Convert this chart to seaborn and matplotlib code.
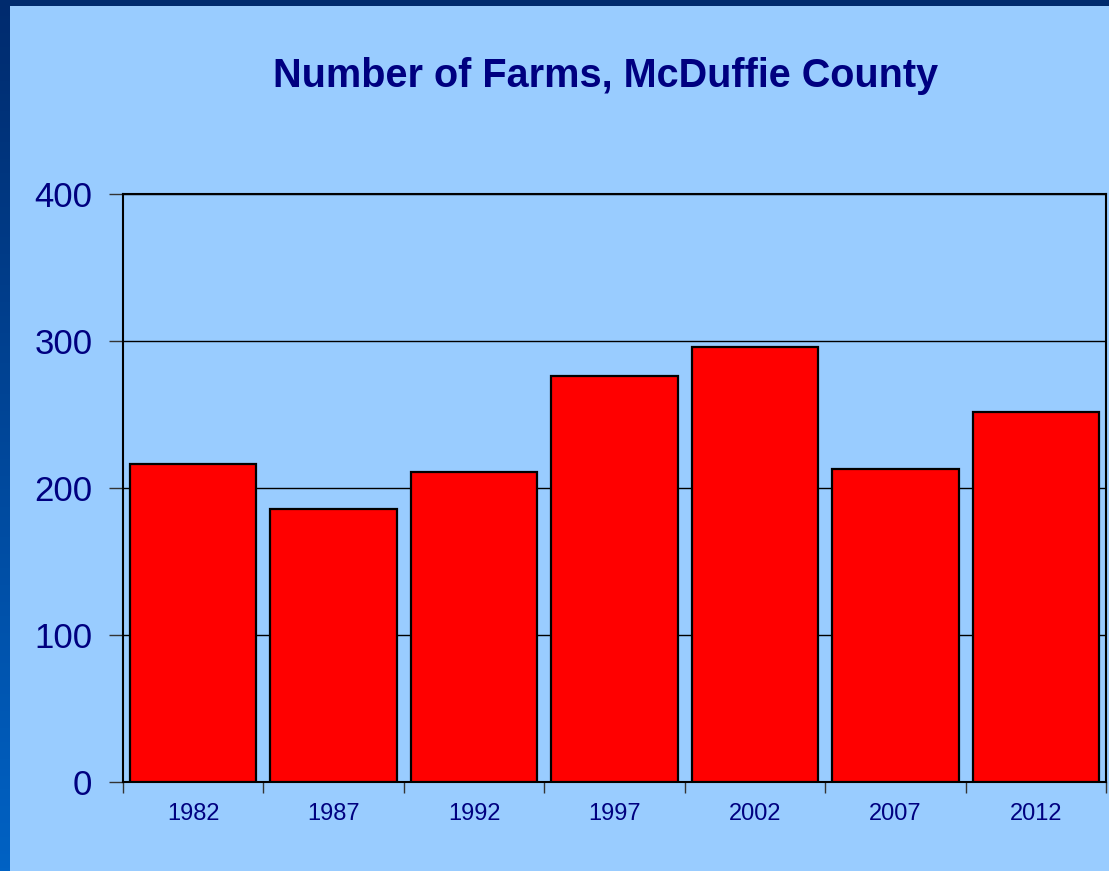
import numpy as np
import pandas as pd
import seaborn as sns
import matplotlib.pyplot as plt
from matplotlib.ticker import FixedLocator
from matplotlib.colors import LinearSegmentedColormap

years = ['1982', '1987', '1992', '1997', '2002', '2007', '2012']
farms = [216, 186, 211, 276, 296, 213, 252]

sns.set_style('white')
plt.rcParams['font.family'] = ['Liberation Sans', 'DejaVu Sans']

navy = '#000080'
bg = '#99CCFF'

df = pd.DataFrame({'year': years, 'farms': farms})

fig = plt.figure(figsize=(11.09, 8.71), dpi=100, facecolor=bg)

# dark blue frame: gradient strip on the left, band on top
edge = fig.add_axes([0, 0, 10 / 1109, 1])
grad = np.linspace(0, 1, 256).reshape(-1, 1)
cmap = LinearSegmentedColormap.from_list('edge', ['#002B6E', '#0062C4'])
edge.imshow(grad, aspect='auto', cmap=cmap, extent=[0, 1, 0, 1], origin='upper')
edge.axis('off')
top = fig.add_axes([0, 1 - 6 / 871, 1, 6 / 871])
top.axis('off')
top.add_patch(plt.Rectangle((0, 0), 1, 1, color='#002B6E', transform=top.transAxes))

ax = fig.add_axes([123 / 1109, 1 - 782 / 871, 983 / 1109, 588 / 871])
ax.set_facecolor(bg)
sns.barplot(data=df, x='year', y='farms', ax=ax, color='red', saturation=1,
            edgecolor='black', linewidth=1.6, width=0.9, zorder=3)

ax.set_ylim(0, 400)
ax.set_xlim(-0.5, 6.5)
ax.set_yticks([0, 100, 200, 300, 400])
ax.yaxis.grid(True, color='black', linewidth=1)
ax.set_axisbelow(True)
for s in ax.spines.values():
    s.set_visible(True)
    s.set_color('black')
    s.set_linewidth(1.5)

ax.set_xlabel('')
ax.set_ylabel('')
ax.tick_params(axis='y', labelsize=25, labelcolor=navy, length=10, width=1, color='#333333', pad=12, left=True)
ax.tick_params(axis='x', which='major', labelsize=17, labelcolor=navy, length=0, pad=15)
ax.xaxis.set_minor_locator(FixedLocator(np.arange(-0.5, 7, 1)))
ax.tick_params(axis='x', which='minor', length=8, width=1, color='#333333', bottom=True)

fig.text(606 / 1109, 1 - 87 / 871, 'Number of Farms, McDuffie County', ha='center', va='baseline',
         fontsize=28.5, fontweight='bold', color=navy)

fig.savefig('out.png', dpi=100, facecolor=bg)
